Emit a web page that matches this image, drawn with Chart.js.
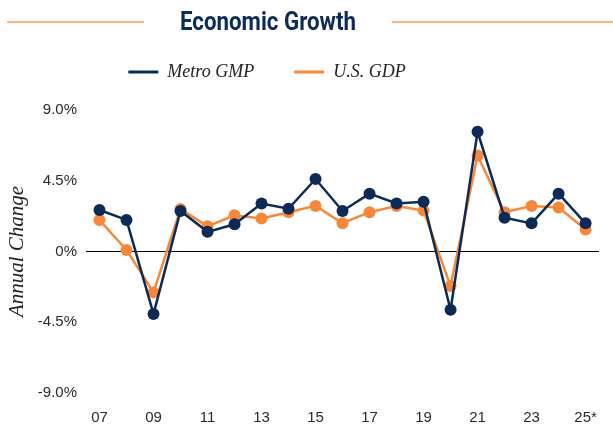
<!DOCTYPE html>
<html>
<head>
<meta charset="utf-8">
<script src="https://cdn.jsdelivr.net/npm/chart.js@4/dist/chart.umd.min.js"></script>
<style>
html,body{margin:0;padding:0;background:#fff;}
#wrap{position:relative;width:613px;height:429px;}
</style>
</head>
<body>
<div id="wrap"><canvas id="c" width="613" height="429"></canvas></div>
<script>
const years = ['2007','2008','2009','2010','2011','2012','2013','2014','2015','2016','2017','2018','2019','2020','2021','2022','2023','2024','2025'];
const tickLabels = ['07','08','09','10','11','12','13','14','15','16','17','18','19','20','21','22','23','24','25*'];
const metroGMP = [2.64, 2.01, -3.97, 2.58, 1.25, 1.73, 3.05, 2.72, 4.61, 2.58, 3.68, 3.05, 3.16, -3.71, 7.61, 2.15, 1.79, 3.68, 1.79];
const usGDP = [2.0, 0.1, -2.6, 2.7, 1.6, 2.3, 2.1, 2.5, 2.9, 1.8, 2.5, 2.9, 2.6, -2.2, 6.1, 2.5, 2.9, 2.8, 1.4];
const yTicks = [-9, -4.5, 0, 4.5, 9];

const NAVY = '#0c2a55';
const ORANGE = '#f7883a';
const TITLE = 'Economic Growth';

const titlePlugin = {
  id: 'titleDeco',
  beforeInit(chart) {
    const lg = chart.legend;
    const orig = lg.fit;
    lg.fit = function () { orig.call(this); this.height += 19; };
  },
  afterLayout(chart) {
    const lg = chart.legend;
    lg.left = 0;
    lg.right = 534;
  },
  afterDraw(chart) {
    const ctx = chart.ctx;
    ctx.save();
    ctx.font = 'bold 26px Roboto, "Liberation Sans", sans-serif';
    const w = ctx.measureText(TITLE).width;
    const sx = 176 / w;
    ctx.translate(268, 23);
    ctx.scale(sx, 1);
    ctx.fillStyle = '#0d2b58';
    ctx.textAlign = 'center';
    ctx.textBaseline = 'middle';
    ctx.fillText(TITLE, 0, 0);
    ctx.restore();
    ctx.save();
    ctx.strokeStyle = '#fb9a5c';
    ctx.lineWidth = 1.5;
    ctx.beginPath();
    ctx.moveTo(7, 22); ctx.lineTo(144, 22);
    ctx.moveTo(392, 22); ctx.lineTo(613, 22);
    ctx.stroke();
    ctx.restore();
  }
};

new Chart(document.getElementById('c'), {
  type: 'line',
  data: {
    labels: years,
    datasets: [
      { label: 'Metro GMP', data: metroGMP, borderColor: NAVY, backgroundColor: NAVY,
        pointBackgroundColor: NAVY, pointBorderColor: NAVY, borderWidth: 2.5,
        pointRadius: 6, pointHoverRadius: 6, pointBorderWidth: 0, tension: 0 },
      { label: 'U.S. GDP', data: usGDP, borderColor: ORANGE, backgroundColor: ORANGE,
        pointBackgroundColor: ORANGE, pointBorderColor: ORANGE, borderWidth: 2.5,
        pointRadius: 6, pointHoverRadius: 6, pointBorderWidth: 0, tension: 0 }
    ]
  },
  options: {
    responsive: false,
    animation: false,
    layout: { padding: { top: 23, left: 0, right: 1, bottom: 2 } },
    plugins: {
      tooltip: { enabled: false },
      title: { display: false },
      legend: {
        display: true,
        position: 'top',
        labels: {
          boxWidth: 30, boxHeight: 3, padding: 40,
          color: '#222',
          font: { family: '"Liberation Serif", "DejaVu Serif", serif', style: 'italic', size: 18 },
          generateLabels(chart) {
            return chart.data.datasets.map((d, i) => ({
              text: d.label, fillStyle: d.borderColor, strokeStyle: d.borderColor,
              lineWidth: 0, hidden: false, datasetIndex: i, fontColor: '#222'
            }));
          }
        }
      }
    },
    scales: {
      x: {
        offset: true,
        grid: { display: false, drawTicks: false },
        border: { display: false },
        afterFit(scale) { scale.height = 34; },
        ticks: {
          autoSkip: false, maxRotation: 0, padding: 16,
          color: '#2a2a2a',
          font: { family: '"Liberation Sans", Arial, sans-serif', size: 15 },
          callback: (v, i) => (i % 2 === 0 ? tickLabels[i] : '')
        }
      },
      y: {
        min: -9, max: 9,
        afterBuildTicks(scale) { scale.ticks = yTicks.map(v => ({ value: v })); },
        afterFit(scale) { scale.width = 86; },
        grid: {
          drawTicks: false,
          color: ctx => (ctx.tick && ctx.tick.value === 0 ? '#000' : 'rgba(0,0,0,0)'),
          lineWidth: 1
        },
        border: { display: false },
        ticks: {
          padding: 9,
          color: '#2a2a2a',
          font: { family: '"Liberation Sans", Arial, sans-serif', size: 15 },
          callback: v => (v === 0 ? '0%' : v.toFixed(1) + '%')
        },
        title: {
          display: true, text: 'Annual Change', color: '#222',
          font: { family: '"Liberation Serif", "DejaVu Serif", serif', style: 'italic', size: 21 },
          padding: { top: 5, bottom: 5 }
        }
      }
    }
  },
  plugins: [titlePlugin]
});
</script>
</body>
</html>
